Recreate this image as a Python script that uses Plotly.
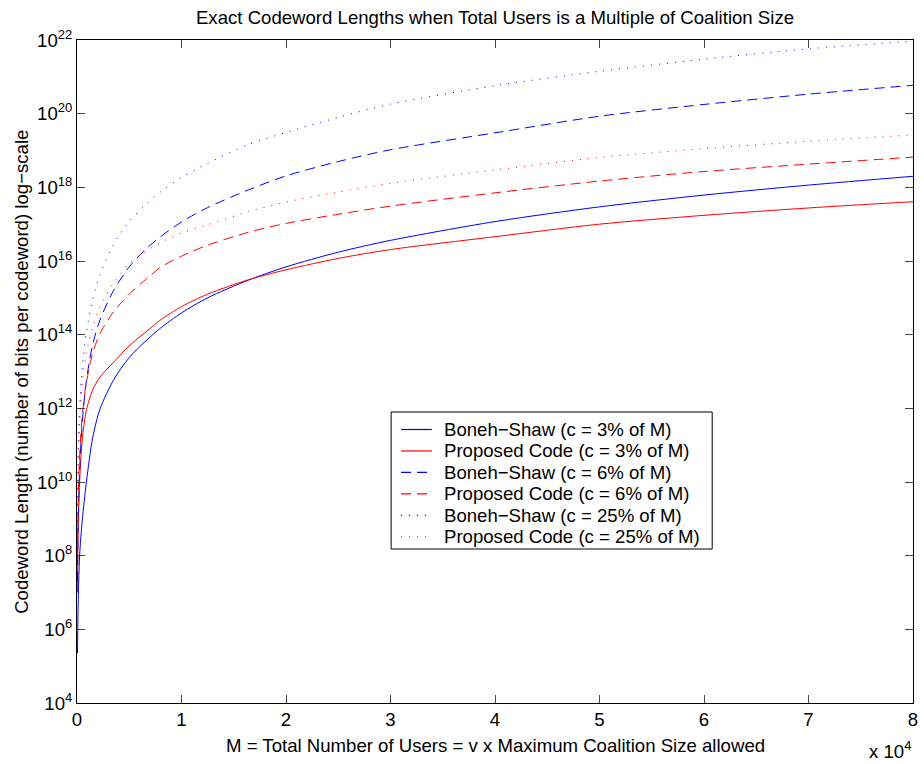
import plotly.graph_objects as go

# M in units of 10^4 users (x axis is "x 10^4")
M = [0.005, 0.01, 0.025, 0.05, 0.09, 0.15, 0.22, 0.35, 0.5, 0.67, 0.8, 1,
     1.25, 1.64, 2, 2.5, 3, 4, 5, 6, 7, 8]

# log10 of codeword length
bs_3 = [5.36, 6.5, 8.0, 8.95, 10.0, 11.2, 11.98, 12.77, 13.38, 13.86, 14.18, 14.59,
        15.0, 15.48, 15.84, 16.24, 16.56, 17.07, 17.47, 17.79, 18.06, 18.30]
pc_3 = [7.0, 8.5, 10.0, 11.15, 11.95, 12.5, 12.85, 13.25, 13.7, 14.1, 14.4, 14.76,
        15.1, 15.49, 15.76, 16.07, 16.31, 16.66, 17.0, 17.24, 17.44, 17.61]
bs_6 = [7.3, 8.7, 10.3, 11.6, 12.75, 13.73, 14.4, 15.2, 15.84, 16.35, 16.66, 17.06,
        17.45, 17.93, 18.31, 18.70, 19.02, 19.48, 19.93, 20.25, 20.53, 20.77]
pc_6 = [8.0, 9.4, 10.7, 11.8, 12.7, 13.5, 14.03, 14.62, 15.1, 15.53, 15.83, 16.13,
        16.43, 16.78, 17.02, 17.27, 17.49, 17.85, 18.17, 18.43, 18.63, 18.82]
bs_25 = [8.5, 10.5, 12.0, 13.1, 14.07, 14.96, 15.62, 16.46, 17.08, 17.56, 17.88, 18.27,
         18.65, 19.16, 19.49, 19.90, 20.26, 20.76, 21.15, 21.48, 21.76, 21.97]
pc_25 = [8.5, 10.3, 11.6, 12.7, 13.5, 14.2, 14.75, 15.4, 15.93, 16.28, 16.5, 16.76,
         16.98, 17.34, 17.6, 17.87, 18.11, 18.47, 18.81, 19.05, 19.25, 19.42]

names = ["Boneh\u2212Shaw (c = 3% of M)", "Proposed Code (c = 3% of M)",
         "Boneh\u2212Shaw (c = 6% of M)", "Proposed Code (c = 6% of M)",
         "Boneh\u2212Shaw (c = 25% of M)", "Proposed Code (c = 25% of M)"]
values = [bs_3, pc_3, bs_6, pc_6, bs_25, pc_25]
BLUE, RED = "rgb(0,0,255)", "rgb(255,0,0)"
colors = [BLUE, RED, BLUE, RED, BLUE, RED]
dashes = ["solid", "solid", "10px,6px", "10px,6px", "1px,7px", "1px,7px"]

x_ticks = [0, 1, 2, 3, 4, 5, 6, 7, 8]
y_exps = [4, 6, 8, 10, 12, 14, 16, 18, 20, 22]

FONT = "Liberation Sans, Arial, Helvetica, sans-serif"
FS = 18.6

# plot area in pixels (for placing texts)
L, R, T, B = 77, 6, 40, 61
W, H = 924, 764
PW, PH = W - L - R, H - T - B


def px_x(x):
    return (x - L) / PW


def px_y(y):
    return (H - B - y) / PH


fig = go.Figure()
for name, vals, color, dash in zip(names, values, colors, dashes):
    fig.add_trace(go.Scatter(
        x=M, y=[10.0 ** v for v in vals], mode="lines", name=name, showlegend=False,
        line=dict(color=color, width=1, dash=dash, shape="spline", smoothing=0.8),
    ))

shapes = []
annotations = []

# legend box (drawn in the same style as the reference)
shapes.append(dict(type="rect", xref="paper", yref="paper",
                   x0=px_x(393), x1=px_x(716), y0=px_y(549), y1=px_y(412),
                   line=dict(color="black", width=1), fillcolor="white", layer="above"))
row0, row_step = 429.5, 21.45
for i, (name, color, dash) in enumerate(zip(names, colors, dashes)):
    yc = row0 + i * row_step
    shapes.append(dict(type="line", xref="paper", yref="paper",
                       x0=px_x(403), x1=px_x(434), y0=px_y(yc), y1=px_y(yc),
                       line=dict(color=color, width=1.2, dash=dash), layer="above"))
    annotations.append(dict(text=name, xref="paper", yref="paper",
                            x=px_x(444), y=px_y(yc), xanchor="left", yanchor="middle",
                            showarrow=False, font=dict(family=FONT, size=FS, color="black")))

annotations += [
    dict(text="M = Total Number of Users = v x Maximum Coalition Size allowed",
         xref="paper", yref="paper", x=0.5, y=px_y(745),
         xanchor="center", yanchor="middle", showarrow=False,
         font=dict(family=FONT, size=FS)),
    dict(text="Codeword Length (number of bits per codeword) log\u2212scale",
         xref="paper", yref="paper", x=px_x(21), y=0.5, textangle=-90,
         xanchor="center", yanchor="middle", showarrow=False,
         font=dict(family=FONT, size=FS)),
    dict(text="x 10<sup>4</sup>", xref="paper", yref="paper",
         x=px_x(895), y=px_y(750),
         xanchor="center", yanchor="middle", showarrow=False,
         font=dict(family=FONT, size=FS)),
]

fig.update_layout(
    width=W, height=H,
    margin=dict(l=L, r=R, t=T, b=B),
    paper_bgcolor="white", plot_bgcolor="white",
    font=dict(family=FONT, size=FS, color="black"),
    title=dict(text="Exact Codeword Lengths when Total Users is a Multiple of Coalition Size",
               x=0.5, xref="paper", y=1 - 17 / H, yanchor="middle",
               font=dict(family=FONT, size=FS, color="black")),
    showlegend=False,
    xaxis=dict(range=[0, 8], tickvals=x_ticks, ticktext=[str(v) for v in x_ticks],
               ticks="inside", ticklen=8, tickcolor="#444", showline=True, linecolor="black",
               linewidth=1, mirror="allticks", showgrid=False, zeroline=False,
               tickfont=dict(family=FONT, size=FS)),
    yaxis=dict(type="log", range=[4, 22], tickvals=[10.0 ** e for e in y_exps],
               ticktext=["10<sup>%d</sup>" % e for e in y_exps],
               ticks="inside", ticklen=8, tickcolor="#444", showline=True, linecolor="black",
               linewidth=1, mirror="allticks", showgrid=False, zeroline=False,
               tickfont=dict(family=FONT, size=FS)),
    shapes=shapes,
    annotations=annotations,
)

fig.write_html("out.html")
